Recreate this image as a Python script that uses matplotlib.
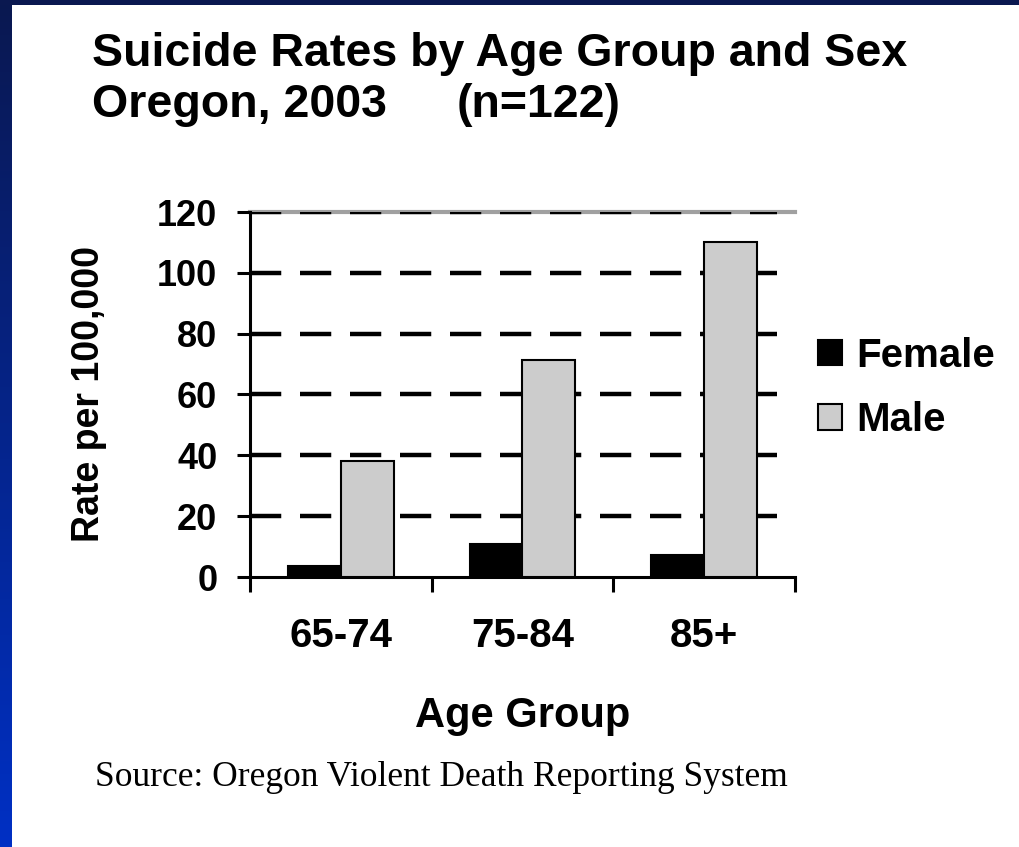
#!/usr/bin/env python3
"""
Suicide rates by age group and sex, Oregon 2003 -- grouped bar chart.
"""

import matplotlib

matplotlib.use("Agg")
import matplotlib.pyplot as plt
import numpy as np

# Data
age_groups = ["65-74", "75-84", "85+"]
female_rates = [3.6, 10.9, 7.2]
male_rates = [38.0, 71.3, 110.0]
series_names = ["Female", "Male"]
y_ticks = [0, 20, 40, 60, 80, 100, 120]

plt.rcParams["font.family"] = ["Liberation Sans", "DejaVu Sans"]
plt.rcParams["font.weight"] = "bold"
plt.rcParams["lines.scale_dashes"] = False

W, H = 1020, 847
fig = plt.figure(figsize=(W / 100, H / 100), dpi=100, facecolor="white")

# blue slide frame: gradient strip on the left, thin strip on top
grad = np.linspace(0, 1, 256).reshape(-1, 1)
cmap = matplotlib.colors.LinearSegmentedColormap.from_list("frame", ["#0a1850", "#0030c4"])
side = fig.add_axes([0, 0, 12 / W, 1])
side.imshow(grad, aspect="auto", cmap=cmap, origin="upper")
side.axis("off")
top = fig.add_axes([0, 1 - 5 / H, 1, 5 / H])
top.set_facecolor("#0a1850")
top.set_xticks([])
top.set_yticks([])
for s in top.spines.values():
    s.set_visible(False)

# plot area
ax = fig.add_axes([250 / W, 1 - 577 / H, 545 / W, 365 / H])
x = np.arange(len(age_groups))
bw = 0.29

ax.bar(x - bw / 2, female_rates, bw, color="black", edgecolor="black",
       linewidth=1.5, label=series_names[0], zorder=3)
ax.bar(x + bw / 2, male_rates, bw, color="#cccccc", edgecolor="black",
       linewidth=1.5, label=series_names[1], zorder=3)

for yv in y_ticks[1:]:
    ax.axhline(yv, xmin=0, xmax=0.967, color="black", linewidth=3.2,
               dashes=(22.5, 13.5), dash_capstyle="butt", zorder=2)

ax.set_xlim(-0.5, len(age_groups) - 0.5)
ax.set_ylim(0, 120)

ax.spines["right"].set_visible(False)
ax.spines["top"].set_color("#a0a0a0")
ax.spines["top"].set_linewidth(3)
ax.spines["top"].set_zorder(1)
ax.spines["left"].set_linewidth(2.2)
ax.spines["bottom"].set_linewidth(2.2)

ax.set_yticks(y_ticks)
ax.tick_params(axis="y", direction="out", length=9.5, width=2.2, pad=14, labelsize=26)

# category boundaries get the ticks, labels sit in the middle
ax.set_xticks(np.arange(len(age_groups) + 1) - 0.5)
ax.set_xticklabels([])
ax.set_xticks(x, minor=True)
ax.set_xticklabels(age_groups, minor=True)
ax.tick_params(axis="x", which="major", direction="out", length=11, width=2.2)
ax.tick_params(axis="x", which="minor", length=0, pad=29, labelsize=29)

ax.set_xlabel("Age Group", fontsize=30, fontweight="bold")
ax.xaxis.set_label_coords(0.5, -0.325)
ax.set_ylabel("Rate per 100,000", fontsize=27, fontweight="bold")
ax.yaxis.set_label_coords(-0.262, 0.5)

ax.legend(loc="center left", bbox_to_anchor=(818 / W, 1 - 388 / H),
          bbox_transform=fig.transFigure, frameon=False, fontsize=29,
          handlelength=0.6, handleheight=0.6, handletextpad=0.35,
          labelspacing=0.65, borderaxespad=0, borderpad=0)

fig.text(92 / W, 1 - 66 / H, "Suicide Rates by Age Group and Sex",
         fontsize=33.5, fontweight="bold", va="baseline", ha="left")
fig.text(92 / W, 1 - 117 / H, "Oregon, 2003", fontsize=33.5,
         fontweight="bold", va="baseline", ha="left")
fig.text(457 / W, 1 - 117 / H, "(n=122)", fontsize=33.5,
         fontweight="bold", va="baseline", ha="left")

fig.text(95 / W, 1 - 786 / H, "Source: Oregon Violent Death Reporting System",
         family=["Liberation Serif", "DejaVu Serif"], fontweight="normal",
         fontsize=25.5, va="baseline", ha="left")

fig.savefig("out.png", dpi=100, facecolor="white")
